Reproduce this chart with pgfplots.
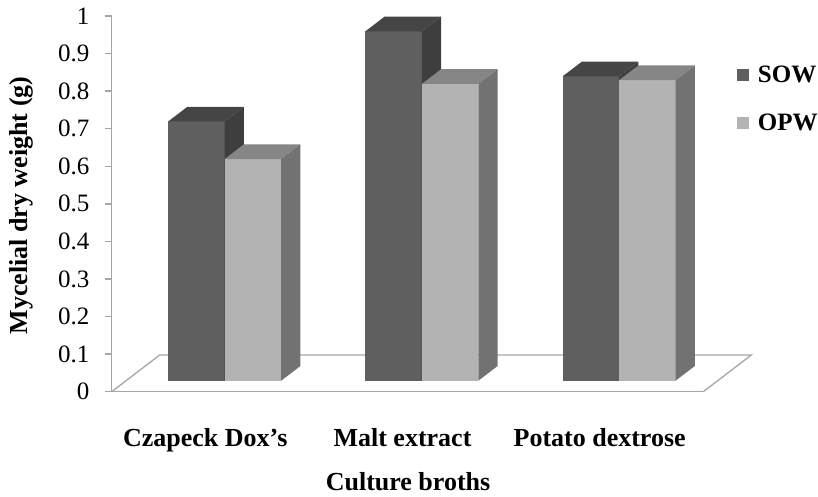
\documentclass[border=0pt]{standalone}
\usepackage{pgfplots}
\pgfplotsset{compat=1.18}
\usepackage{pgfplotstable}
\usepackage{fontspec}
\setmainfont{Liberation Serif}

\definecolor{sowfront}{HTML}{5F5F5F}
\definecolor{sowtop}{HTML}{454545}
\definecolor{sowside}{HTML}{3E3E3E}
\definecolor{opwfront}{HTML}{B3B3B3}
\definecolor{opwtop}{HTML}{868686}
\definecolor{opwside}{HTML}{727272}
\definecolor{axisgray}{HTML}{A6A6A6}

% mycelial dry weight (g) per culture broth; pos = group centre on the x axis
\pgfplotstableread{
pos sow opw
0.5 0.69 0.59
1.5 0.93 0.79
2.5 0.81 0.80
}\brothdata

% oblique projection: depth of the floor in axis units, bar width
\def\floordx{0.2434}
\def\floordy{0.0977}
\def\barw{0.2865}

% one 3-D column: #1 left edge, #2 height, #3 front, #4 top, #5 side colour
\newcommand\cuboid[5]{%
  \pgfmathsetmacro\cxa{#1+0.3*\floordx}%
  \pgfmathsetmacro\cxb{\cxa+\barw}%
  \pgfmathsetmacro\cya{0.3*\floordy}%
  \pgfmathsetmacro\cyb{\cya+#2}%
  \pgfmathsetmacro\cxc{\cxa+0.4*\floordx}%
  \pgfmathsetmacro\cxd{\cxb+0.4*\floordx}%
  \pgfmathsetmacro\cyc{\cya+0.4*\floordy}%
  \pgfmathsetmacro\cyd{\cyb+0.4*\floordy}%
  \addplot[forget plot, fill=#3, draw=none] coordinates {(\cxa,\cya) (\cxb,\cya) (\cxb,\cyb) (\cxa,\cyb)} -- cycle;
  \addplot[forget plot, fill=#4, draw=none] coordinates {(\cxa,\cyb) (\cxb,\cyb) (\cxd,\cyd) (\cxc,\cyd)} -- cycle;
  \addplot[forget plot, fill=#5, draw=none] coordinates {(\cxb,\cya) (\cxd,\cyc) (\cxd,\cyd) (\cxb,\cyb)} -- cycle;
}

% both columns of one culture broth, from row #1 of the table
\newcommand\drawgroup[1]{%
  \pgfplotstablegetelem{#1}{pos}\of\brothdata\let\gpos\pgfplotsretval
  \pgfplotstablegetelem{#1}{sow}\of\brothdata\let\gsow\pgfplotsretval
  \pgfplotstablegetelem{#1}{opw}\of\brothdata\let\gopw\pgfplotsretval
  \pgfmathsetmacro\gleft{\gpos-\barw}%
  \cuboid{\gleft}{\gsow}{sowfront}{sowtop}{sowside}%
  \cuboid{\gpos}{\gopw}{opwfront}{opwtop}{opwside}%
}

\begin{document}
\begin{tikzpicture}
\path[use as bounding box] (-111.7pt,-104.3pt) rectangle (706.3pt,391.7pt);
\begin{axis}[
  at={(0,0)}, anchor=south west,
  scale only axis, width=591.6pt, height=375.7pt,
  xmin=0, xmax=3, ymin=0, ymax=1,
  clip=false,
  axis lines*=left,
  axis line style={draw=axisgray, line width=1.3pt, -},
  xtick={0.5,1.5,2.5},
  xticklabels={Czapeck Dox’s, Malt extract, Potato dextrose},
  x tick style={draw=none},
  xticklabel style={anchor=base, yshift=-48pt, xshift=-5pt,
    font=\fontsize{26}{30}\bfseries},
  ytick={0,0.1,0.2,0.3,0.4,0.5,0.6,0.7,0.8,0.9,1},
  yticklabels={0,0.1,0.2,0.3,0.4,0.5,0.6,0.7,0.8,0.9,1},
  tick align=outside,
  major tick length=7pt,
  y tick style={draw=axisgray, line width=1.3pt},
  yticklabel style={anchor=east, inner sep=0pt, xshift=-15pt,
    font=\fontsize{25}{29}\selectfont},
  every axis y label/.style={at={(axis description cs:-0.1425,0.4956)},
    rotate=90, anchor=base, font=\fontsize{26}{30}\bfseries},
  every axis x label/.style={at={(axis description cs:0.5009,-0.2635)},
    anchor=base, font=\fontsize{26}{30}\bfseries},
  ylabel={Mycelial dry weight (g)},
  xlabel={Culture broths},
  legend style={at={(axis description cs:1.0565,0.8735)}, anchor=north west,
    draw=none, fill=none, inner sep=0pt, row sep=26pt,
    font=\fontsize{25}{29}\bfseries,
    /tikz/every odd column/.style={column sep=7pt}},
  legend cell align=left,
  legend image code/.code={\fill[#1, draw=none] (0pt,-6pt) rectangle (12pt,6pt);},
]
% floor outline behind the columns
\addplot[forget plot, draw=axisgray, line width=1.3pt]
  coordinates {(0,0) (0.2434,0.0977) (3.2434,0.0977) (3,0)};
\drawgroup{0}
\drawgroup{1}
\drawgroup{2}
\addlegendimage{fill=sowfront}
\addlegendentry{SOW}
\addlegendimage{fill=opwfront}
\addlegendentry{OPW}
\end{axis}
\end{tikzpicture}
\end{document}
